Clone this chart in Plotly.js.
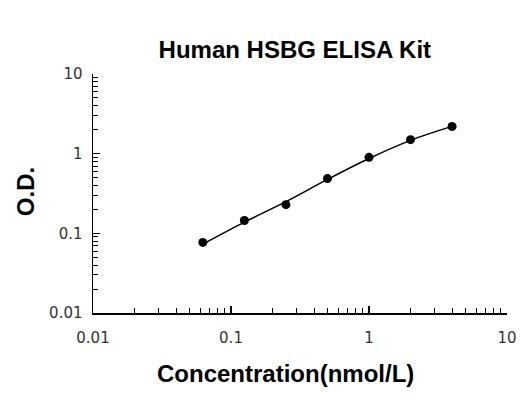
<!DOCTYPE html>
<html>
<head>
<meta charset="utf-8">
<script src="https://cdn.plot.ly/plotly-3.0.1.min.js"></script>
<style>
  html, body { margin: 0; padding: 0; background: #fff; }
  #chart { width: 520px; height: 420px; }
</style>
</head>
<body>
<div id="chart"></div>
<script>
// standard concentrations (nmol/L) and measured O.D.
const concentration = [0.0625, 0.125, 0.25, 0.5, 1, 2, 4];
const odMeasured = [0.077, 0.145, 0.229, 0.487, 0.90, 1.50, 2.19];
// fitted curve, at the same concentrations
const odFitted = [0.073, 0.138, 0.25, 0.475, 0.87, 1.47, 2.2];

const xTicks = [0.01, 0.1, 1, 10];
const xTickText = ["0.01", "0.1", "1", "10"];
const yTicks = [0.01, 0.1, 1, 10];
const yTickText = ["0.01", "0.1", "1", "10"];

const titleFont = { family: "Liberation Sans, Arial, sans-serif", size: 24, color: "#000" };

const fitTrace = {
  x: concentration,
  y: odFitted,
  type: "scatter",
  mode: "lines",
  line: { color: "#000", width: 1.5, shape: "spline" },
  hoverinfo: "skip",
};

const pointTrace = {
  x: concentration,
  y: odMeasured,
  type: "scatter",
  mode: "markers",
  marker: { color: "#000", size: 9 },
};

const axisBase = {
  type: "log",
  range: [-2, 1],
  showgrid: false,
  zeroline: false,
  showline: true,
  linecolor: "#000",
  linewidth: 1.5,
  ticks: "inside",
  ticklen: 7,
  tickwidth: 1.2,
  tickcolor: "#000",
  tickmode: "array",
  tickfont: { family: "DejaVu Sans, sans-serif", size: 15, color: "#333" },
  minor: { dtick: "D1", ticks: "inside", ticklen: 5, tickwidth: 1, tickcolor: "#000" },
};

const layout = {
  width: 520,
  height: 420,
  margin: { l: 93, r: 13, t: 74, b: 107 },
  paper_bgcolor: "#fff",
  plot_bgcolor: "#fff",
  showlegend: false,
  title: {
    text: "<b>Human HSBG ELISA Kit</b>",
    x: 0.567,
    xanchor: "center",
    y: 0.883,
    yanchor: "middle",
    font: titleFont,
  },
  xaxis: { ...axisBase, tickvals: xTicks, ticktext: xTickText, ticklabelstandoff: 10 },
  yaxis: { ...axisBase, tickvals: yTicks, ticktext: yTickText, ticklabelstandoff: 6 },
  annotations: [
    {
      text: "<b>Concentration(nmol/L)</b>",
      xref: "paper", yref: "paper",
      x: 0.464, y: -0.255,
      xanchor: "center", yanchor: "middle",
      showarrow: false,
      font: titleFont,
    },
    {
      text: "<b>O.D.</b>",
      xref: "paper", yref: "paper",
      x: -0.164, y: 0.506,
      xanchor: "center", yanchor: "middle",
      textangle: -90,
      showarrow: false,
      font: titleFont,
    },
  ],
};

Plotly.newPlot("chart", [fitTrace, pointTrace], layout, { displayModeBar: false, staticPlot: true });
</script>
</body>
</html>
